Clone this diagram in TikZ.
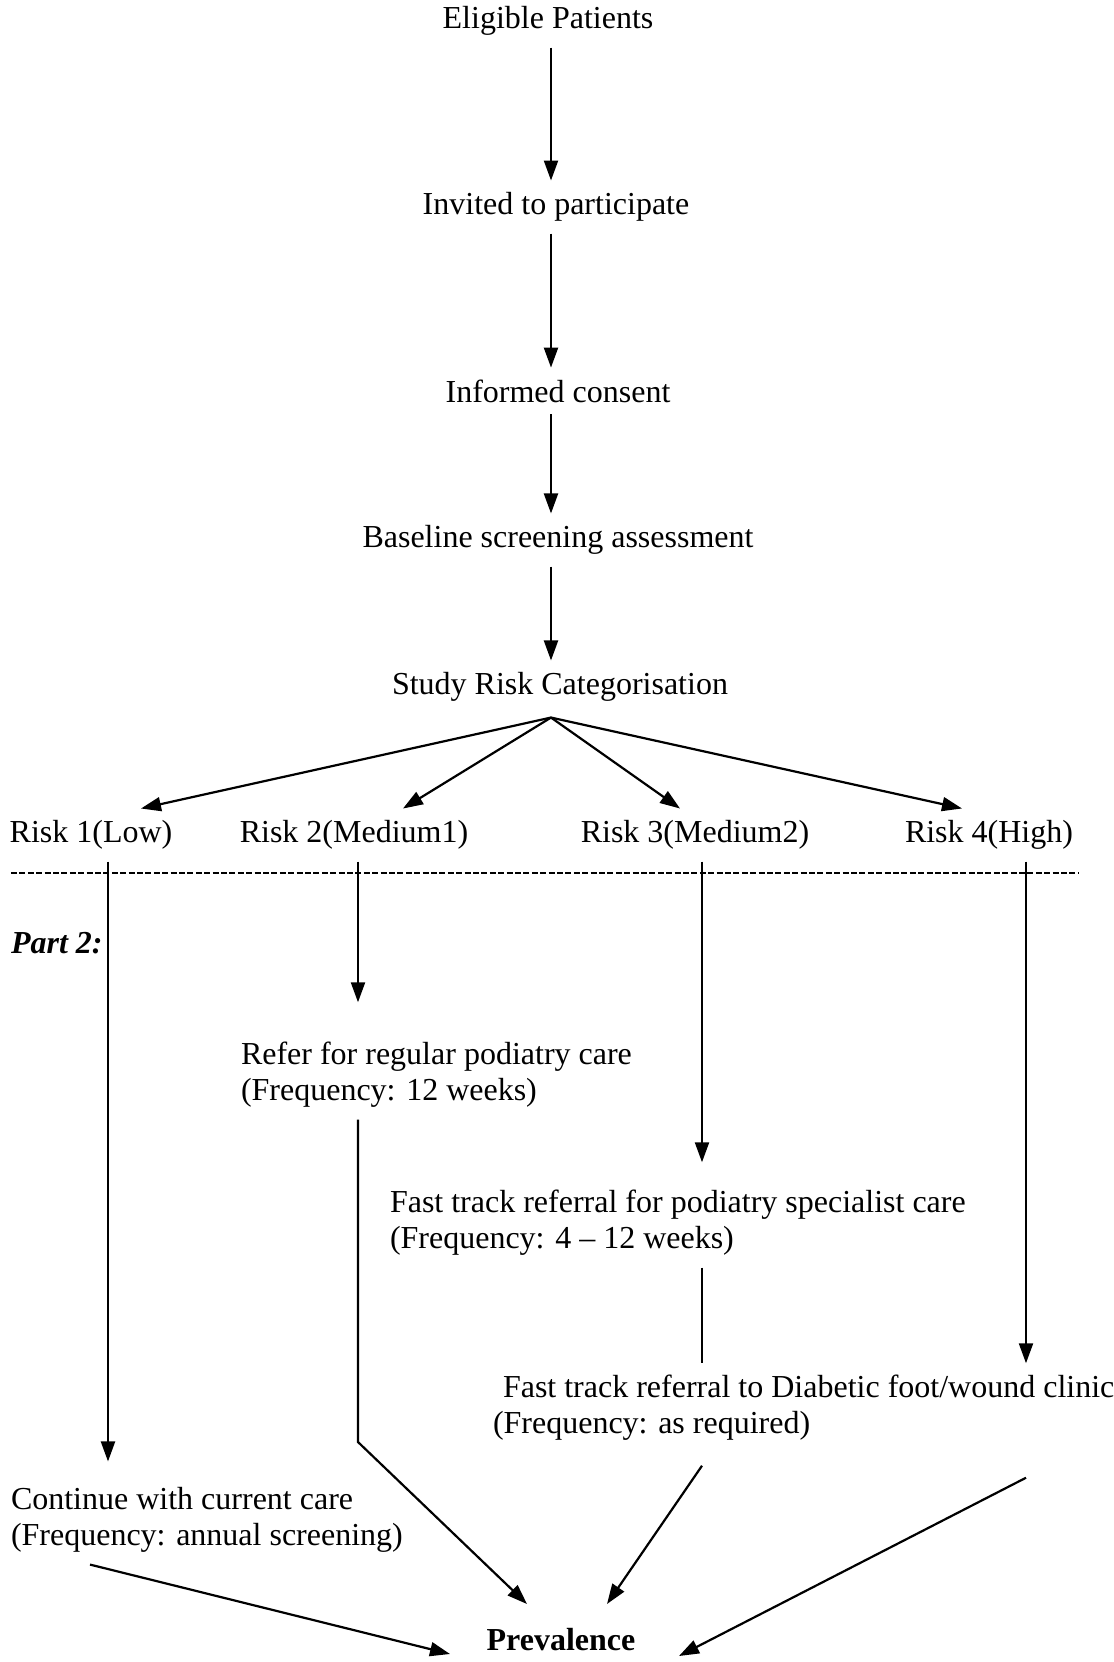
\documentclass[tikz,border=0pt]{standalone}
\usepackage{fontspec}
\setmainfont{Liberation Serif}
\usepackage{tikz}
\usetikzlibrary{arrows.meta,calc}
\tikzset{
  flowtext/.style = {align=left, inner sep=0pt, outer sep=6pt,
    font=\fontsize{16}{18}\selectfont},
  flowhead/.style = {flowtext, font=\fontsize{16}{18}\selectfont\bfseries},% result
  parttag/.style = {flowtext, font=\fontsize{16}{18}\selectfont\bfseries\itshape},
  divider/.style = {line width=1pt, dash pattern=on 3pt off 1.2pt}
}

\begin{document}
\begin{tikzpicture}[x=0.5pt, y=-0.5pt, line width=1.1pt,
  >={Triangle[length=10pt,width=7pt]}]
\useasboundingbox (0,0) rectangle (1114,1662);
% part 1
\node [flowtext] (elig) at (548,21) {Eligible Patients};
\node [flowtext] (inv) at (556,207) {Invited to participate};
\node [flowtext] (inf) at (558,391) {Informed consent};
\node [flowtext] (base) at (558,540) {Baseline screening assessment};
\node [flowtext] (study) at (560,687) {Study Risk Categorisation};
\node [flowtext] (r1) at (91,835) {Risk 1(Low)};
\node [flowtext] (r2) at (354,835) {Risk 2(Medium1)};
\node [flowtext] (r3) at (695,835) {Risk 3(Medium2)};
\node [flowtext] (r4) at (989,835) {Risk 4(High)};
\coordinate (axis) at ([xshift=1.5pt]elig.south);
\coordinate (apex) at ([xshift=-4.5pt,yshift=-2pt]study.south);
\draw [->] (axis) -- (axis |- inv.north);
\draw [->] (axis |- inv.south) -- (axis |- inf.north);
\draw [->] (axis |- inf.south) -- (axis |- base.north);
\draw [->] (axis |- base.south) -- (axis |- study.north);
\draw [->] (apex) -- ([xshift=25pt]r1.north);
\draw [->] (apex) -- ([xshift=24.5pt]r2.north);
\draw [->] (apex) -- ([xshift=-7.5pt]r3.north);
\draw [->] (apex) -- ([xshift=-13.5pt]r4.north);
\draw [divider] (11,873) -- (1079,873);
% part 2
\node [parttag, anchor=west] (part) at (-1,943) {Part 2:};
\node [flowtext, anchor=west] (refer) at (229,1075)
  {Refer for regular podiatry care\\(Frequency: 12 weeks)};
\node [flowtext, anchor=west] (fast) at (378,1223)
  {Fast track referral for podiatry specialist care\\(Frequency: 4 -- 12 weeks)};
\node [flowtext, anchor=west] (dfw) at (481,1408)
  {\hspace*{5pt}Fast track referral to Diabetic foot/wound clinic\\(Frequency: as required)};
\node [flowtext, anchor=west] (cont) at (-1,1520)
  {Continue with current care\\(Frequency: annual screening)};
\node [flowhead] (prev) at (561,1640) {Prevalence};
\coordinate (m1) at ([xshift=8.5pt]r1.south);
\coordinate (m2) at ([xshift=2pt]r2.south);
\coordinate (m3) at ([xshift=3.5pt]r3.south);
\coordinate (m4) at ([xshift=18.5pt]r4.south);
\coordinate (bend) at (358,1442);
\draw [->, shorten >=7pt] (m1) -- (m1 |- cont.north);
\draw [->, shorten >=14pt] (m2) -- (m2 |- refer.north);
\draw [->, shorten >=8pt] (m3) -- (m3 |- fast.north);
\draw (m3 |- fast.south) -- (m3 |- dfw.north);
\draw [->] (m4) -- (m4 |- dfw.north);
% into prevalence
\draw [->] ([xshift=45.5pt]cont.south west) -- ([shift={(-111,14)}]prev.center);
\draw [->] (bend |- refer.south) -- (bend) -- ([shift={(-34,-36)}]prev.center);
\draw [->] ($(m3 |- dfw.south)+(0,13)$) -- ([shift={(46,-36)}]prev.center);
\draw [->] ($(m4 |- dfw.south)+(0,25)$) -- ([shift={(118,16)}]prev.center);
\end{tikzpicture}
\end{document}
